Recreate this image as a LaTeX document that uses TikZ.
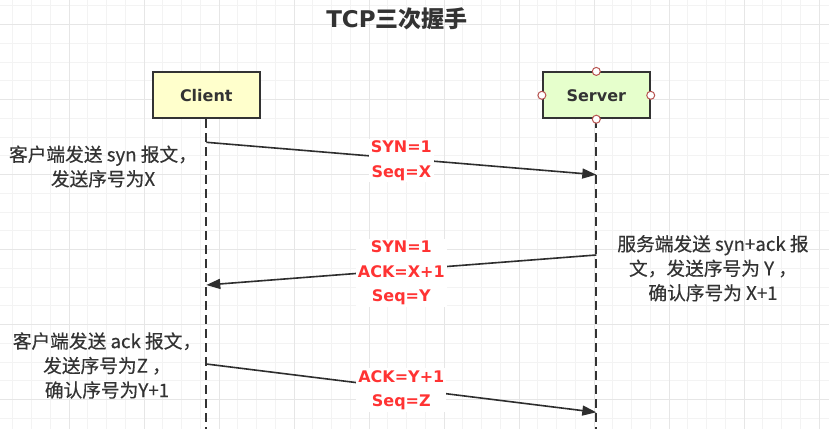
\documentclass[tikz,border=0pt]{standalone}
\usepackage{fontspec}
\setmainfont{Noto Sans CJK SC}
\newfontfamily\notefont[FakeBold=0.35]{Noto Sans CJK SC}
\newfontfamily\latinb{DejaVu Sans}
\usetikzlibrary{arrows.meta}
\definecolor{gridminor}{HTML}{F3F3F3}
\definecolor{gridmajor}{HTML}{E6E6E6}
\definecolor{ink}{HTML}{333333}
\definecolor{redlbl}{HTML}{FF3333}
\definecolor{clientfill}{HTML}{FFFFCC}
\definecolor{serverfill}{HTML}{E6FFCC}
\definecolor{portc}{HTML}{B85450}
\tikzset{
  actor/.style={draw=ink, line width=1.8pt, minimum width=107pt, minimum height=46pt, inner sep=0pt, font=\latinb\fontsize{16}{18}\selectfont\bfseries, text=ink},
  lifeline/.style={draw=ink, line width=1.8pt, dash pattern=on 9pt off 5pt},
  msg/.style={draw=ink!90!black, line width=1.6pt, -{Triangle[length=14pt,width=10pt]}},
  msglabel/.style={fill=white, align=center, inner sep=2pt, text=redlbl, font=\latinb\fontsize{16}{24.5}\selectfont\bfseries},
  note/.style={align=center, text=ink, inner sep=0pt, font=\notefont\fontsize{18.7}{24.5}\selectfont},
  port/.style={circle, draw=portc, fill=white, line width=1pt, minimum size=8pt, inner sep=0pt}
}
\begin{document}
\begin{tikzpicture}[x=1pt,y=-1pt]
\useasboundingbox (0,0) rectangle (829,429);
\fill[white] (0,0) rectangle (829,429);
% grid
\foreach \i in {0,...,43} {
  \draw[gridminor, line width=1pt] ({12.8+18.75*\i},0) -- ({12.8+18.75*\i},429);
}
\foreach \j in {0,...,22} {
  \draw[gridminor, line width=1pt] (0,{5.95+18.75*\j}) -- (829,{5.95+18.75*\j});
}
\foreach \i in {0,...,10} {
  \draw[gridmajor, line width=1.2pt] ({69.3+75*\i},0) -- ({69.3+75*\i},429);
}
\foreach \j in {0,...,5} {
  \draw[gridmajor, line width=1.2pt] (0,{24.7+75*\j}) -- (829,{24.7+75*\j});
}
% title
\node[text=ink, font=\fontsize{23}{26}\selectfont\bfseries] (title) at (397,19) {{\latinb\bfseries TCP}三次握手};
% actors
\node[actor, fill=clientfill] (client) at (206.3,95.3) {Client};
\node[actor, fill=serverfill] (server) at (596.3,95.3) {Server};
\coordinate (cend) at (206.3,429);
\coordinate (send) at (596.3,429);
\draw[lifeline] (client.south) -- (cend);
\draw[lifeline] (server.south) -- (send);
\node[port] (pn) at (server.north) {};
\node[port] (ps) at (server.south) {};
\node[port] (pw) at (server.west) {};
\node[port] (pe) at (server.east) {};
% message points on lifelines
\coordinate (c1) at (206.3,142.3);
\coordinate (s1) at (596.3,174.7);
\coordinate (s2) at (596.3,255);
\coordinate (c2) at (206.3,285);
\coordinate (c3) at (206.3,364);
\coordinate (s3) at (596.3,412.3);
\draw[msg] (c1) -- node[msglabel, midway, yshift=-2pt] (l1) {SYN=1\\Seq=X} (s1);
\draw[msg] (s2) -- node[msglabel, midway, yshift=-3pt] (l2) {SYN=1\\ACK=X+1\\Seq=Y} (c2);
\draw[msg] (c3) -- node[msglabel, midway, yshift=-2pt] (l3) {ACK=Y+1\\Seq=Z} (s3);
% notes
\node[note] (n1) at (103,166.5) {客户端发送 syn 报文，\\发送序号为X};
\node[note] (n2) at (713,268.3) {服务端发送 syn+ack 报\\文，发送序号为 Y ，\\确认序号为 X+1};
\node[note] (n3) at (107,365.5) {客户端发送 ack 报文，\\发送序号为Z ，\\确认序号为Y+1};
\end{tikzpicture}
\end{document}
